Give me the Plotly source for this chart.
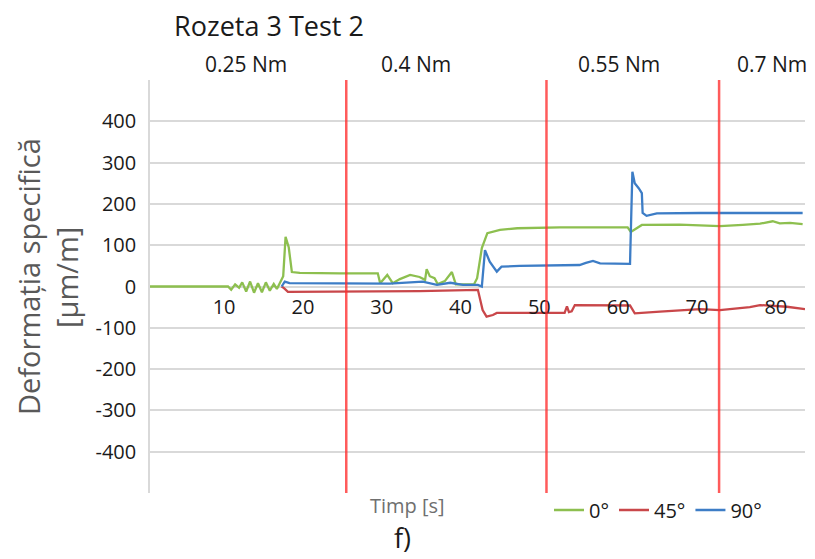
import plotly.graph_objects as go

# ---- data ----
time_0 = [0.6, 10.5, 10.9, 11.4, 11.9, 12.3, 12.8, 13.3, 13.8, 14.3, 14.8, 15.3, 15.8, 16.3, 16.7,
          17.1, 17.5, 17.8, 18.2, 18.6, 19.6, 24.7, 29.5, 29.8, 30.7, 31.4, 32.3, 33.6, 34.8,
          35.5, 35.7, 36.1, 36.7, 37.1, 38.0, 38.9, 39.4, 41.7, 42.1, 42.7, 43.4, 45.0, 47.2,
          52.6, 57.7, 61.2, 61.6, 62.2, 63.0, 67.8, 72.9, 75.8, 78.0, 79.6, 80.5, 81.8, 83.4]
strain_0 = [0, 0, -8, 5, -3, 10, -12, 12, -15, 8, -14, 10, -10, 6, -6,
            10, 25, 120, 95, 35, 33, 32, 32, 8, 28, 8, 18, 28, 23,
            16, 42, 25, 20, 6, 13, 35, 5, 5, 20, 93, 129, 137, 141,
            143, 143, 143, 132, 140, 149, 150, 146, 149, 152, 158, 153, 154, 151]

time_45 = [17.3, 17.6, 18.1, 26.0, 34.8, 42.2, 42.8, 43.3, 44.1, 44.6, 48.8, 52.6, 53.2,
           53.5, 53.75, 54.1, 54.5, 61.5, 62.1, 65.3, 70.4, 72.9, 76.7, 78.0, 81.4, 83.7]
strain_45 = [0, -4, -13, -12, -11, -8, -57, -73, -69, -64, -64, -63, -64,
             -48, -62, -60, -45, -46, -65, -61, -55, -57, -50, -45, -49, -55]

time_90 = [17.3, 17.7, 18.3, 26.0, 31.0, 35.2, 37.0, 38.7, 40.3, 42.2, 42.7, 43.1, 43.7,
           44.6, 45.2, 47.5, 55.1, 55.9, 56.8, 57.7, 61.5, 61.8, 62.1, 62.6, 63.0, 63.1,
           63.6, 64.9, 70.4, 83.4]
strain_90 = [0, 12, 8, 8, 7, 12, 4, 9, 4, 4, 0, 88, 60,
             36, 48, 50, 52, 57, 62, 56, 55, 278, 250, 238, 226, 178,
             171, 177, 178, 178]

series_names = ["0°", "45°", "90°"]
series_colors = ["#8dbf4f", "#c9474a", "#3d7dc6"]

torque_change_times = [25.5, 50.9, 72.8]
torque_label_times = [12.8, 34.3, 60.1, 79.5]
torque_labels = ["0.25 Nm", "0.4 Nm", "0.55 Nm", "0.7 Nm"]

x_ticks = [10, 20, 30, 40, 50, 60, 70, 80]
y_ticks = [-500, -400, -300, -200, -100, 0, 100, 200, 300, 400, 500]
y_tick_text = ["", "-400", "-300", "-200", "-100", "0", "100", "200", "300", "400", ""]

FONT = "Open Sans"

fig = go.Figure()
for t, s, name, col in zip([time_0, time_45, time_90], [strain_0, strain_45, strain_90],
                           series_names, series_colors):
    fig.add_trace(go.Scatter(x=t, y=s, mode="lines", name=name,
                             line=dict(color=col, width=2.3)))

shapes = []
for xv in torque_change_times:
    shapes.append(dict(type="line", xref="x", yref="paper", x0=xv, x1=xv, y0=0, y1=1,
                       line=dict(color="rgba(255,45,45,0.78)", width=2.5), layer="above"))

annotations = []
for xv, lab in zip(torque_label_times, torque_labels):
    annotations.append(dict(x=xv, y=1, xref="x", yref="paper", text=lab, showarrow=False,
                            yanchor="bottom", yshift=0, font=dict(family=FONT, size=21, color="#1a1a1a")))

pixel_annotations = [
    dict(x=28, y=277, text="Deformația specifică", textangle=-90,
         font=dict(family=FONT, size=29, color="#595959")),
    dict(x=66, y=278, text="[µm/m]", textangle=-90,
         font=dict(family=FONT, size=29, color="#595959")),
    dict(x=407, y=505, text="Timp [s]", font=dict(family=FONT, size=20, color="#6f6f6f")),
    dict(x=402, y=537, text="f)", font=dict(family=FONT, size=27, color="#1a1a1a")),
]

# convert pixel-placed annotations (x,y in px) to paper coords
L, R, T, B = 150, 10, 80, 66
W, H = 815, 559
pw, ph = W - L - R, H - T - B
for a in pixel_annotations:
    a["x"] = (a["x"] - L) / pw
    a["y"] = (H - B - a["y"]) / ph
    a.update(xref="paper", yref="paper", xanchor="center", yanchor="middle", showarrow=False)
annotations += pixel_annotations

fig.update_layout(
    width=W, height=H,
    margin=dict(l=L, r=R, t=T, b=B, autoexpand=False),
    paper_bgcolor="white", plot_bgcolor="white",
    font=dict(family=FONT, color="#1a1a1a"),
    title=dict(text="Rozeta 3 Test 2", x=269 / W, xanchor="center", y=1 - 27 / H, yanchor="middle",
               font=dict(family=FONT, size=27, color="#1a1a1a")),
    xaxis=dict(range=[0.6, 83.7], tickvals=x_ticks, showgrid=False, zeroline=False,
               showline=False, ticks="", anchor="free", position=0.5, automargin=False,
               ticklabelstandoff=6, tickfont=dict(family=FONT, size=20, color="#1a1a1a")),
    yaxis=dict(range=[-500, 500], tickvals=y_ticks, ticktext=y_tick_text, showgrid=True,
               gridcolor="#d9d9d9", gridwidth=1.5, zeroline=False, showline=True,
               linecolor="#d9d9d9", linewidth=1.5, ticks="", ticklabelstandoff=8,
               automargin=False, tickfont=dict(family=FONT, size=20, color="#1a1a1a")),
    legend=dict(orientation="h", x=(549 - L) / pw, xanchor="left", y=-17 / ph, yanchor="middle",
                font=dict(family=FONT, size=20, color="#1a1a1a"), bgcolor="rgba(0,0,0,0)",
                itemwidth=30, tracegroupgap=0),
    shapes=shapes,
    annotations=annotations,
    showlegend=True,
)

fig.write_html("out.html", config={"displayModeBar": False},
               post_script="document.body.style.margin='0';")
